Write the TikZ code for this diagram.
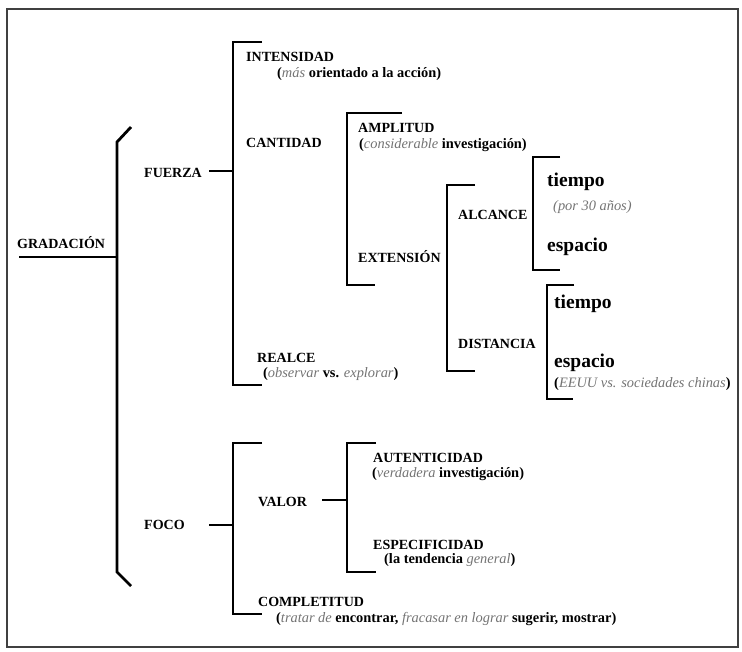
\documentclass[tikz,border=0pt]{standalone}
\usepackage{fontspec}
\setmainfont{Liberation Serif}
\newcommand\gi[1]{{\mdseries\itshape\color{black!55}#1}}
\begin{document}
\begin{tikzpicture}[x=1pt,y=-1pt,
  lbl/.style={anchor=base west, inner sep=0pt, font=\fontsize{14}{16}\selectfont\bfseries},
  sublbl/.style={anchor=base west, inner sep=0pt, font=\fontsize{14.4}{16}\selectfont\bfseries},
  biglbl/.style={anchor=base west, inner sep=0pt, font=\fontsize{19.5}{22}\selectfont\bfseries},
  brk/.style={line width=2.8pt, line cap=butt, line join=miter},
  framebox/.style={draw=black!75, line width=1.5pt}]
\useasboundingbox (0,0) rectangle (742,651);
\draw[framebox] (7,9) rectangle (738,647);

% labels
\node[lbl] (grad) at (17,248) {GRADACIÓN};
\node[lbl] (fuerza) at (144,177) {FUERZA};
\node[lbl] (intens) at (246,61) {INTENSIDAD};
\node[sublbl] (intensS) at (277,77) {(\gi{más} orientado a la acción)};
\node[lbl] (cant) at (246,147) {CANTIDAD};
\node[lbl] (ampl) at (358,132) {AMPLITUD};
\node[sublbl] (amplS) at (359,148) {(\gi{considerable} investigación)};
\node[lbl] (ext) at (358,262) {EXTENSIÓN};
\node[lbl] (alc) at (458,219) {ALCANCE};
\node[biglbl] (t1) at (547,186) {tiempo};
\node[sublbl] (t1S) at (553,210) {\gi{(por 30 años)}};
\node[biglbl] (e1) at (547,251) {espacio};
\node[lbl] (dist) at (458,348) {DISTANCIA};
\node[biglbl] (t2) at (554,308) {tiempo};
\node[biglbl] (e2) at (554,367) {espacio};
\node[sublbl] (e2S) at (554,387) {(\gi{EEUU vs. sociedades chinas})};
\node[lbl] (realce) at (257,362) {REALCE};
\node[sublbl] (realceS) at (263,377) {(\gi{observar} vs. \gi{explorar})};
\node[lbl] (foco) at (144,529) {FOCO};
\node[lbl] (valor) at (258,506) {VALOR};
\node[lbl] (aut) at (373,462) {AUTENTICIDAD};
\node[sublbl] (autS) at (372,477) {(\gi{verdadera} investigación)};
\node[lbl] (esp) at (373,549) {ESPECIFICIDAD};
\node[sublbl] (espS) at (384,563) {(la tendencia \gi{general})};
\node[lbl] (comp) at (258,606) {COMPLETITUD};
\node[sublbl] (compS) at (276,622) {(\gi{tratar de} encontrar, \gi{fracasar en lograr} sugerir, mostrar)};

% bracket coordinates
\coordinate (gL) at (19,257);
\coordinate (gB) at (117,257);
\coordinate (fA) at (209,171);
\coordinate (fB) at (233,171);
\coordinate (oA) at (209,525);
\coordinate (oB) at (233,525);
\coordinate (vA) at (322,500);
\coordinate (vB) at (347,500);

% lines
\draw[brk] (gL) -- (gB);
\draw[brk] (131,127) -- (117,142) -- (117,572) -- (131,586);
\draw[brk] (fA) -- (fB);
\draw[brk] (262,42) -- (233,42) -- (233,385) -- (262,385);
\draw[brk] (402,113) -- (347,113) -- (347,285) -- (375,285);
\draw[brk] (475,185) -- (447,185) -- (447,371) -- (475,371);
\draw[brk] (560,157) -- (533,157) -- (533,270) -- (560,270);
\draw[brk] (574,285) -- (547,285) -- (547,399) -- (573,399);
\draw[brk] (oA) -- (oB);
\draw[brk] (262,443) -- (233,443) -- (233,614) -- (262,614);
\draw[brk] (vA) -- (vB);
\draw[brk] (376,443) -- (347,443) -- (347,572) -- (376,572);
\end{tikzpicture}
\end{document}
